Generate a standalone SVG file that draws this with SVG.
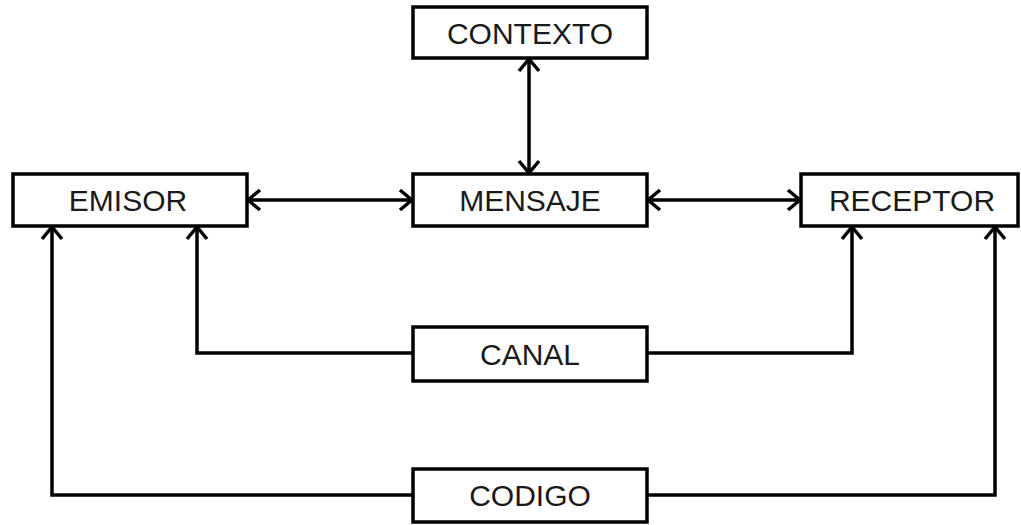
<svg xmlns="http://www.w3.org/2000/svg" width="1021" height="525" viewBox="0 0 1021 525">
<style>
.box{fill:#fff;stroke:#000;stroke-width:3.5}
.lbl{font-family:"Liberation Sans",Arial,sans-serif;font-size:30px;fill:#1a1a1a;text-anchor:middle}
.ln{fill:none;stroke:#000;stroke-width:3.5}
</style>
<defs>
<marker id="a" viewBox="0 0 16 24" refX="14" refY="12" markerWidth="16" markerHeight="24" markerUnits="userSpaceOnUse" orient="auto-start-reverse">
<path d="M2,2 L14,12 L2,22" fill="none" stroke="#000" stroke-width="3.5"/>
</marker>
</defs>
<rect width="1021" height="525" fill="#fff"/>
<g id="connectors">
<line class="ln" x1="529" y1="59" x2="529" y2="173" marker-start="url(#a)" marker-end="url(#a)"/>
<line class="ln" x1="248" y1="200" x2="412" y2="200" marker-start="url(#a)" marker-end="url(#a)"/>
<line class="ln" x1="648" y1="200" x2="800" y2="200" marker-start="url(#a)" marker-end="url(#a)"/>
<polyline class="ln" points="413,353 197,353 197,227" marker-end="url(#a)"/>
<polyline class="ln" points="647,353 852,353 852,227" marker-end="url(#a)"/>
<polyline class="ln" points="413,495 52,495 52,227" marker-end="url(#a)"/>
<polyline class="ln" points="647,495 995,495 995,227" marker-end="url(#a)"/>
</g>
<g id="contexto"><rect class="box" x="413" y="7" width="234" height="51"/><text class="lbl" x="530" y="44">CONTEXTO</text></g>
<g id="emisor"><rect class="box" x="13" y="174" width="234" height="52"/><text class="lbl" x="128" y="211">EMISOR</text></g>
<g id="mensaje"><rect class="box" x="413" y="174" width="234" height="52"/><text class="lbl" x="530" y="211">MENSAJE</text></g>
<g id="receptor"><rect class="box" x="801" y="174" width="217" height="52"/><text class="lbl" x="912" y="211">RECEPTOR</text></g>
<g id="canal"><rect class="box" x="413" y="327" width="234" height="54"/><text class="lbl" x="530" y="365">CANAL</text></g>
<g id="codigo"><rect class="box" x="413" y="469" width="234" height="53"/><text class="lbl" x="530" y="506">CODIGO</text></g>
</svg>
